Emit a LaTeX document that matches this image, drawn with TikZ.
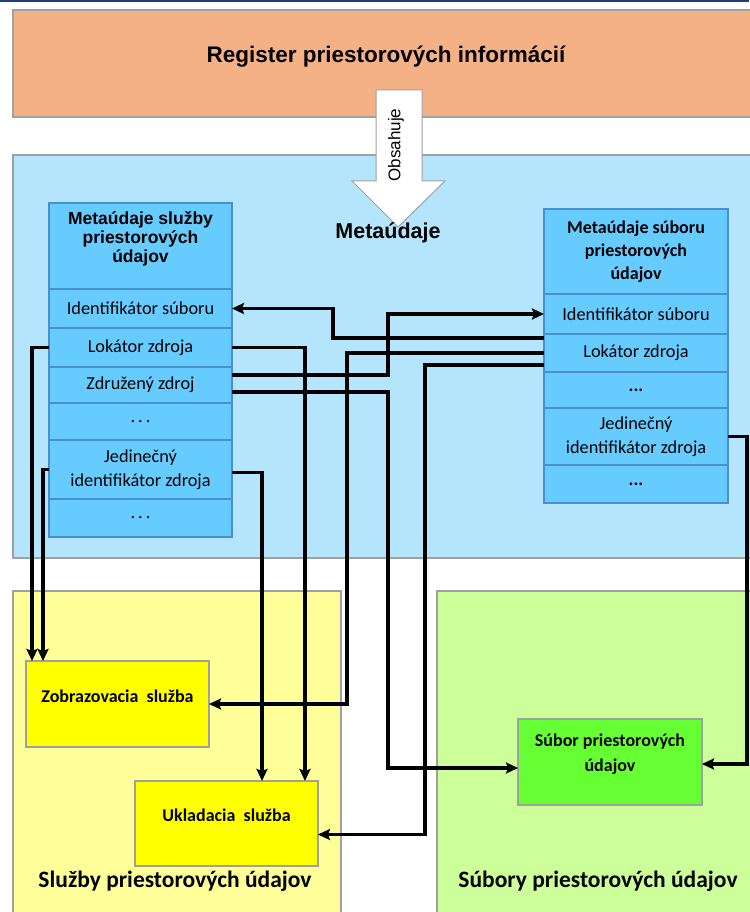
\documentclass[tikz,border=0pt]{standalone}
\usepackage{fontspec}
\setmainfont{Carlito}
\newfontfamily\arialfont{Liberation Sans}
\usetikzlibrary{arrows.meta, positioning}

\definecolor{topbar}{HTML}{1F3C7C}
\definecolor{regline}{HTML}{A0A0A0}
\definecolor{regorange}{HTML}{F3B185}
\definecolor{regblue}{HTML}{B4E5FC}
\definecolor{regyellow}{HTML}{FFFF99}
\definecolor{reggreen}{HTML}{CCFF99}
\definecolor{cellfill}{HTML}{66CCFF}
\definecolor{cellline}{HTML}{4A90C8}
\definecolor{yelbox}{HTML}{FFFF00}
\definecolor{grnbox}{HTML}{66FF33}

\begin{document}
\begin{tikzpicture}[x=1pt, y=-1pt,
  region/.style={draw=regline, line width=1.5pt, anchor=north west, inner sep=0pt, outer sep=0pt},
  cell/.style={draw=cellline, line width=1.2pt, fill=cellfill, minimum width=183pt, inner sep=0pt, outer sep=0pt, align=center, font=\fontsize{18.3}{24}\selectfont},
  box/.style={draw=regline, line width=1.2pt, anchor=north west, inner sep=0pt, outer sep=0pt},
  boxtxt/.style={font=\bfseries\fontsize{18}{25}\selectfont, align=center},
  regtxt/.style={font=\bfseries\fontsize{23.5}{28}\selectfont},
  link/.style={line width=3.5pt, -{Stealth[length=12pt, width=11pt, inset=2pt]}}]
\useasboundingbox (0,0) rectangle (749,912);
\fill[topbar] (0,0) rectangle (749,2.5);

% regions
\node[region, fill=regorange, minimum width=740pt, minimum height=107pt] (reg) at (13,10) {};
\node[region, fill=regblue, minimum width=740pt, minimum height=403pt] (meta) at (13,155) {};
\node[region, fill=regyellow, minimum width=328pt, minimum height=330pt] (sluz) at (13,591) {};
\node[region, fill=reggreen, minimum width=316pt, minimum height=330pt] (subr) at (437,591) {};
\node[font=\arialfont\bfseries\fontsize{22.5}{27}\selectfont] (regtxt) at (386,57) {Register priestorových informácií};

% big arrow
\draw[draw=regline, fill=white, line width=1pt] (376,90) -- (422,90) -- (422,181) -- (445,181) -- (398,227) -- (352,181) -- (376,181) -- cycle;
\node[font=\arialfont\fontsize{17}{20}\selectfont, rotate=90] (obs) at (396,145) {Obsahuje};
\node[font=\arialfont\bfseries\fontsize{21.5}{26}\selectfont] (metatxt) at (388,233) {Metaúdaje};

% left table
\node[cell, minimum height=86pt, anchor=north west] (lhead) at (49,203) {};
\node[font=\arialfont\bfseries\fontsize{17.5}{19}\selectfont, align=center, inner sep=0pt, anchor=north] (lheadtxt) at ([yshift=-8pt]lhead.north) {Metaúdaje služby\\priestorových\\údajov};
\node[cell, minimum height=39pt, below=0pt of lhead] (lid) {Identifikátor súboru};
\node[cell, minimum height=39pt, below=0pt of lid] (llok) {Lokátor zdroja};
\node[cell, minimum height=36pt, below=0pt of llok] (lzdr) {Združený zdroj};
\node[cell, minimum height=37pt, below=0pt of lzdr] (ldot) {.\,.\,.};
\node[cell, minimum height=59pt, below=0pt of ldot] (ljed) {Jedinečný\\identifikátor zdroja};
\node[cell, minimum height=38pt, below=0pt of ljed] (ldotb) {.\,.\,.};

% right table
\node[cell, minimum width=184pt, minimum height=85pt, anchor=north west, font=\bfseries\fontsize{18}{23}\selectfont] (rhead) at (544,209) {Metaúdaje súboru\\priestorových\\údajov};
\node[cell, minimum width=184pt, minimum height=40pt, below=0pt of rhead] (rid) {Identifikátor súboru};
\node[cell, minimum width=184pt, minimum height=38pt, below=0pt of rid] (rlok) {Lokátor zdroja};
\node[cell, minimum width=184pt, minimum height=36pt, below=0pt of rlok] (rdot) {\textbf{...}};
\node[cell, minimum width=184pt, minimum height=57pt, below=0pt of rdot] (rjed) {Jedinečný\\identifikátor zdroja};
\node[cell, minimum width=184pt, minimum height=38pt, below=0pt of rjed] (rdotb) {\textbf{...}};

% services and data sets
\node[box, fill=yelbox, minimum width=183pt, minimum height=86pt] (zob) at (26,661) {};
\node[boxtxt] (zobtxt) at ([yshift=8pt]zob.center) {Zobrazovacia\ \ služba};
\node[box, fill=yelbox, minimum width=183pt, minimum height=85pt] (ukl) at (135,781) {};
\node[boxtxt] (ukltxt) at ([yshift=8.5pt]ukl.center) {Ukladacia\ \ služba};
\node[box, fill=grnbox, minimum width=184pt, minimum height=86pt] (sub) at (518,719) {};
\node[boxtxt] (subtxt) at ([yshift=7.5pt]sub.center) {Súbor priestorových\\údajov};
\node[regtxt] (sluztxt) at (175,881) {Služby priestorových údajov};
\node[regtxt] (subrtxt) at (598,881) {Súbory priestorových údajov};

% links
\draw[link] ([yshift=-4pt]rlok.north west) -- ++(-211pt,0) |- (lid.east);
\draw[link] ([yshift=-19pt]rlok.north west) -- ++(-197pt,0) |- (zob.east);
\draw[link] ([yshift=-31pt]rlok.north west) -- ++(-119pt,0) |- ([yshift=-11pt]ukl.east);
\draw[link] ([yshift=-8pt]lzdr.north east) -- ++(156pt,0) |- (rid.west);
\draw[link] ([yshift=-25pt]lzdr.north east) -- ++(156pt,0) |- ([yshift=-6pt]sub.west);
\draw[link] (llok.east) -| ([xshift=-13pt]ukl.north east);
\draw[link] ([yshift=-3pt]ljed.east) -| ([xshift=127pt]ukl.north west);
\draw[link] (llok.west) -| ([xshift=6pt]zob.north west);
\draw[link] (ljed.west) -| ([xshift=17pt]zob.north west);
\draw[link] (rjed.east) -- ++(19pt,0) |- ([yshift=-2pt]sub.east);
\end{tikzpicture}
\end{document}
